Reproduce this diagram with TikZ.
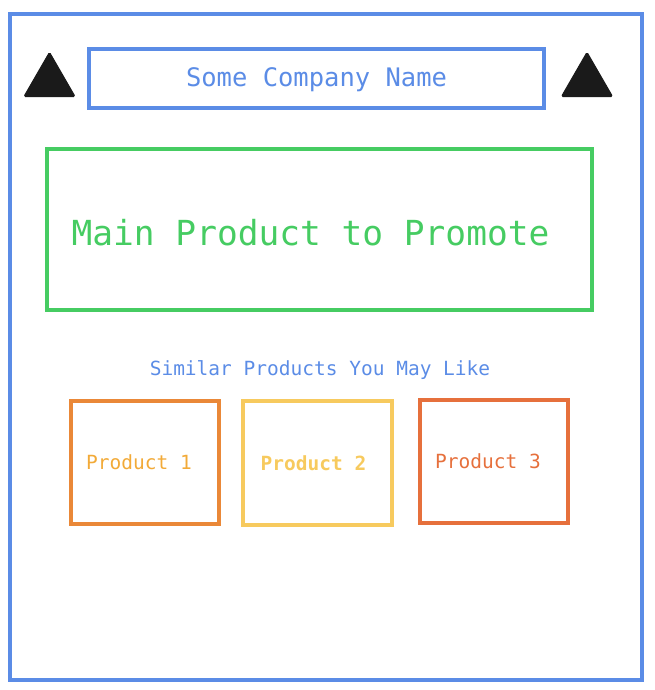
\documentclass[tikz,border=0pt]{standalone}
\usepackage{fontspec}
\setmonofont{DejaVu Sans Mono}
\usetikzlibrary{shapes.geometric}

\definecolor{pageblue}{HTML}{5B8CE6}
\definecolor{maingreen}{HTML}{46CC62}
\definecolor{prodorange}{HTML}{EA8838}
\definecolor{prodamber}{HTML}{F2AA38}
\definecolor{prodyellow}{HTML}{F7CA5E}
\definecolor{prodred}{HTML}{E6703C}
\definecolor{trigray}{HTML}{1A1A1A}

\begin{document}
\begin{tikzpicture}[x=1pt, y=-1pt, every node/.style={font=\ttfamily},
  box/.style={draw, line width=4pt, inner sep=0pt},
  prodbox/.style={box, minimum width=148pt, minimum height=123pt, font=\ttfamily\fontsize{19.5}{22}\selectfont},
  tri/.style={regular polygon, regular polygon sides=3, draw=trigray, fill=trigray, line width=1pt, rounded corners=1.5pt, minimum size=59pt, inner sep=0pt}]
  \useasboundingbox (0,0) rectangle (655,690);

  \draw[pageblue, line width=4pt] (10,14) rectangle (642,680);

  \node[tri] (lefttri) at (49.5,81.8) {};
  \node[tri] (righttri) at (587,81.8) {};

  \node[box, draw=pageblue, text=pageblue, minimum width=455pt, minimum height=59pt, text height=22pt, font=\ttfamily\fontsize{25.5}{28}\selectfont] (company) at (316.5,78.5)
  {Some Company Name};

  \node[box, draw=maingreen, text=maingreen, minimum width=545pt, minimum height=161pt, text height=32pt, font=\ttfamily\fontsize{34.5}{38}\selectfont] (mainprod) at (319.5,229.5)
  {Main Product to Promote\hspace*{18pt}};

  \node[text=pageblue, font=\ttfamily\fontsize{19.5}{22}\selectfont] (similar) at (320,370)
  {Similar Products You May Like};

  \node[prodbox, draw=prodorange, text=prodamber] (prod1) at (145,462.5) {Product 1\hspace*{12pt}};
  \node[prodbox, draw=prodyellow, text=prodyellow, minimum width=149pt, minimum height=124pt, font=\ttfamily\bfseries\fontsize{19.5}{22}\selectfont] (prod2) at (317.5,463) {Product 2\hspace*{8pt}};
  \node[prodbox, draw=prodred, text=prodred] (prod3) at (494,461.5) {Product 3\hspace*{12pt}};
\end{tikzpicture}
\end{document}
